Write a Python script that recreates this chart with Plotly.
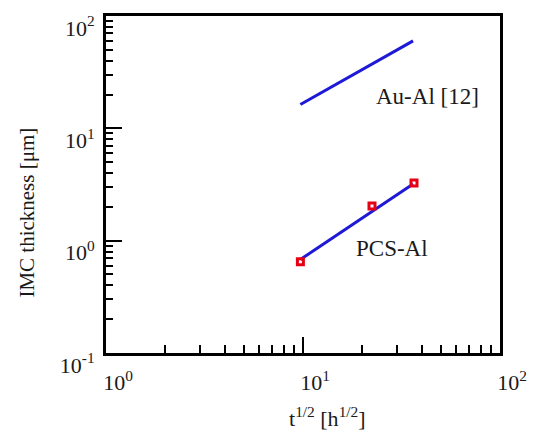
import plotly.graph_objects as go

# Data
pcs_x = [9.7, 22.4, 36.6]
pcs_y = [0.65, 2.04, 3.26]
pcs_fit_x = [9.7, 36.2]
pcs_fit_y = [0.68, 3.19]
auai_x = [9.7, 36.2]
auai_y = [16.3, 60.1]

major_vals = [1, 10, 100]
minor_x = [m * d for d in (1, 10) for m in range(2, 10)]
major_y = [0.1, 1, 10, 100]
minor_y = [m * d for d in (0.1, 1, 10) for m in range(2, 10)]

blue = "rgb(30,25,215)"
red = "rgb(230,0,20)"
font = "Liberation Serif, Times New Roman, serif"
txt = "#1a1a1a"

fig = go.Figure()
fig.add_trace(go.Scatter(x=auai_x, y=auai_y, mode="lines",
                         line=dict(color=blue, width=3), showlegend=False))
fig.add_trace(go.Scatter(x=pcs_fit_x, y=pcs_fit_y, mode="lines",
                         line=dict(color=blue, width=3), showlegend=False))
fig.add_trace(go.Scatter(x=pcs_x, y=pcs_y, mode="markers",
                         marker=dict(symbol="square-open", size=6, color=red,
                                     line=dict(width=3, color=red)),
                         showlegend=False))

axis_common = dict(
    type="log", showgrid=False, zeroline=False,
    showline=True, linecolor="black", linewidth=3, mirror=True,
    ticks="inside", ticklen=16, tickwidth=2, tickcolor="black",
    tickfont=dict(family=font, size=22, color=txt),
)

fig.update_xaxes(**axis_common, range=[0, 2], tickvals=major_vals,
                 ticktext=["10<sup>0</sup>", "10<sup>1</sup>", "10<sup>2</sup>"],
                 ticklabelshift=12, ticklabelstandoff=8,
                 minor=dict(tickvals=minor_x, ticks="inside", ticklen=8,
                            tickwidth=2, tickcolor="black", showgrid=False))
fig.update_yaxes(**axis_common, range=[-1, 2], tickvals=major_y,
                 ticktext=["10<sup>-1</sup>", "10<sup>0</sup>", "10<sup>1</sup>", "10<sup>2</sup>"],
                 ticklabelshift=12, ticklabelstandoff=4,
                 minor=dict(tickvals=minor_y, ticks="inside", ticklen=7,
                            tickwidth=2, tickcolor="black", showgrid=False))

fig.add_annotation(text="Au-Al [12]", xref="paper", yref="paper", x=0.68, y=0.761,
                   xanchor="left", yanchor="middle", showarrow=False,
                   font=dict(family=font, size=23, color=txt))
fig.add_annotation(text="PCS-Al", xref="paper", yref="paper", x=0.63, y=0.31,
                   xanchor="left", yanchor="middle", showarrow=False,
                   font=dict(family=font, size=23, color=txt))
fig.add_annotation(text="t<sup>1/2</sup> [h<sup>1/2</sup>]", xref="paper", yref="paper",
                   x=0.561, y=-0.19, xanchor="center", yanchor="middle", showarrow=False,
                   font=dict(family=font, size=22, color=txt))
fig.add_annotation(text="IMC thickness [μm]", xref="paper", yref="paper",
                   x=-0.201, y=0.416, xanchor="center", yanchor="middle", showarrow=False,
                   textangle=-90, font=dict(family=font, size=21, color=txt))

fig.update_layout(width=539, height=436, margin=dict(l=106, r=30, t=14, b=83),
                  plot_bgcolor="white", paper_bgcolor="white")

fig.write_html("out.html")
